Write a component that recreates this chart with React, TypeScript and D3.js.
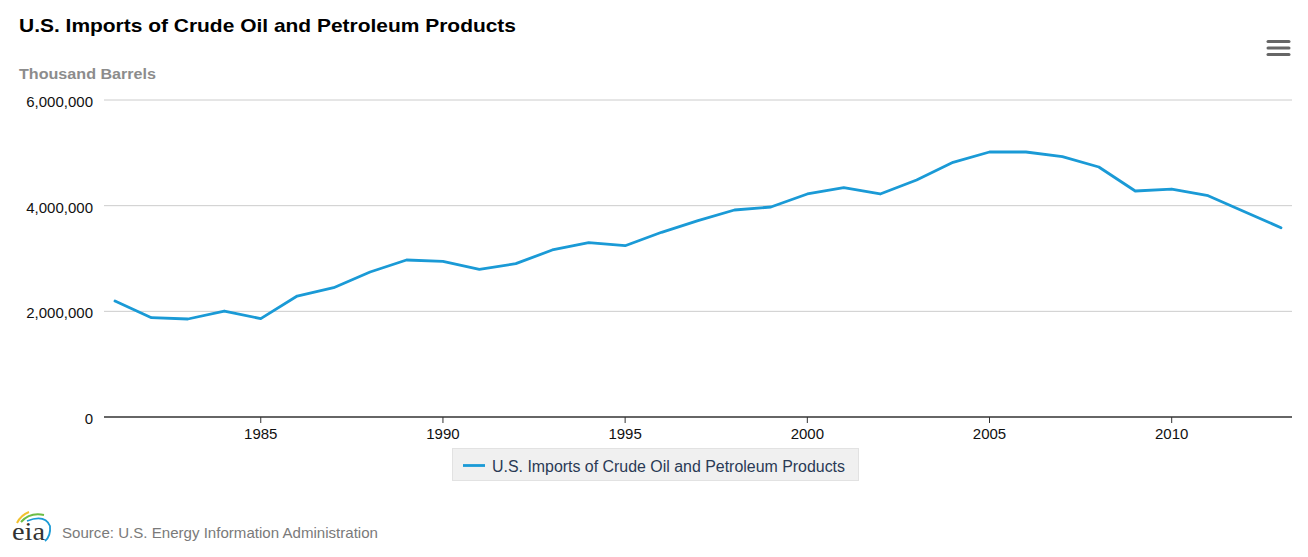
import React from "react";
import * as d3 from "d3";

const years: number[] = d3.range(1981, 2014);
const imports: number[] = [
  2196000, 1880000, 1855000, 2006000, 1861000, 2290000, 2448000, 2744000, 2972000, 2947000,
  2796000, 2902000, 3161000, 3299000, 3242000, 3496000, 3716000, 3918000, 3975000, 4221000,
  4340000, 4221000, 4486000, 4821000, 5016000, 5016000, 4927000, 4732000, 4278000, 4315000,
  4189000, 3886000, 3583000,
];
const yTicks: number[] = [0, 2000000, 4000000, 6000000];
const xTicks: number[] = [1985, 1990, 1995, 2000, 2005, 2010];
const seriesName = "U.S. Imports of Crude Oil and Petroleum Products";
const titleText = "U.S. Imports of Crude Oil and Petroleum Products";
const yAxisTitle = "Thousand Barrels";
const sourceText = "Source: U.S. Energy Information Administration";

const W = 1308;
const H = 557;
const plotLeft = 104;
const plotRight = 1292;
const font = "'Liberation Sans', Arial, Helvetica, sans-serif";
const lineColor = "#1a9ad6";

export default function App() {
  const x = d3.scaleLinear().domain([1981, 2013]).range([115, 1281]);
  const y = d3.scaleLinear().domain([0, 6000000]).range([417, 100]);
  const fmt = d3.format(",");
  const line = d3
    .line<number>()
    .x((_, i) => x(years[i]))
    .y((d) => y(d));

  return (
    <svg
      width={W}
      height={H}
      style={{ position: "absolute", left: 0, top: 0, background: "#fff" }}
      fontFamily={font}
    >
      <rect x={0} y={0} width={W} height={H} fill="#fff" />
      <text
        x={19}
        y={32}
        fontSize={19}
        fontWeight="bold"
        fill="#000"
        textLength={497}
        lengthAdjust="spacingAndGlyphs"
      >
        {titleText}
      </text>
      {/* menu icon */}
      {[41.5, 48, 54.5].map((yy) => (
        <line
          key={yy}
          x1={1268}
          x2={1289}
          y1={yy}
          y2={yy}
          stroke="#666"
          strokeWidth={3}
          strokeLinecap="round"
        />
      ))}
      <text
        x={19}
        y={79}
        fontSize={14.5}
        fontWeight="bold"
        fill="#8c8c8c"
        textLength={137}
        lengthAdjust="spacingAndGlyphs"
      >
        {yAxisTitle}
      </text>
      {/* gridlines */}
      {yTicks
        .filter((t) => t !== 0)
        .map((t) => (
          <line
            key={t}
            x1={plotLeft}
            x2={plotRight}
            y1={y(t)}
            y2={y(t)}
            stroke="#cccccc"
            strokeWidth={1}
          />
        ))}
      {yTicks.map((t) => (
        <text
          key={"l" + t}
          x={93}
          y={y(t) + 7}
          fontSize={15}
          textAnchor="end"
          fill="#111"
        >
          {fmt(t)}
        </text>
      ))}
      {/* x axis */}
      <line x1={plotLeft} x2={plotRight} y1={y(0)} y2={y(0)} stroke="#333" strokeWidth={1.5} />
      {xTicks.map((t) => (
        <g key={t}>
          <line x1={x(t)} x2={x(t)} y1={y(0)} y2={y(0) + 6} stroke="#333" strokeWidth={1} />
          <text x={x(t)} y={y(0) + 22} fontSize={15} textAnchor="middle" fill="#111">
            {t}
          </text>
        </g>
      ))}
      {/* series */}
      <path
        d={line(imports) || ""}
        fill="none"
        stroke={lineColor}
        strokeWidth={2.8}
        strokeLinejoin="round"
        strokeLinecap="round"
      />
      {/* legend */}
      <rect x={452.5} y={448.5} width={406} height={32} fill="#f0f0f0" stroke="#e2e2e2" />
      <line x1={463} x2={485} y1={465.5} y2={465.5} stroke={lineColor} strokeWidth={2.8} />
      <text
        x={492}
        y={471.5}
        fontSize={16}
        fill="#2a3a55"
        textLength={353}
        lengthAdjust="spacingAndGlyphs"
      >
        {seriesName}
      </text>
      {/* eia logo */}
      <g>
        <path d="M17,523 Q21,515 29,512" fill="none" stroke="#f2c12e" strokeWidth={2} />
        <path d="M21,522 Q30,512 44,515" fill="none" stroke="#6cbd45" strokeWidth={2} />
        <path d="M27,521 Q45,514 50,526 Q51,536 45,541" fill="none" stroke="#1a9ad6" strokeWidth={1.8} />
        <text
          x={12}
          y={540}
          fontSize={25}
          fontFamily="'Liberation Serif', 'DejaVu Serif', serif"
          fill="#333"
          textLength={33}
          lengthAdjust="spacingAndGlyphs"
        >
          eia
        </text>
      </g>
      <text
        x={62}
        y={538}
        fontSize={15}
        fill="#7a7a7a"
        textLength={316}
        lengthAdjust="spacingAndGlyphs"
      >
        {sourceText}
      </text>
    </svg>
  );
}
